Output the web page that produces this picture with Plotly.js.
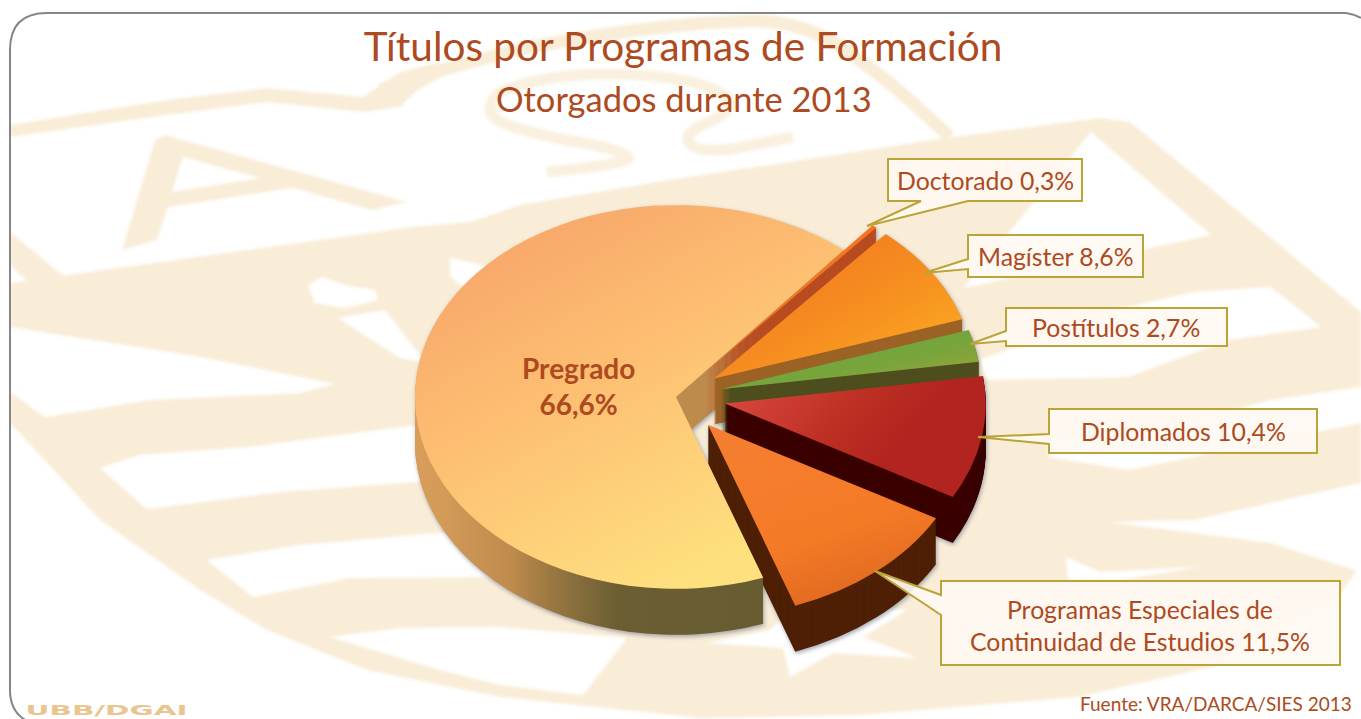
<!DOCTYPE html>
<html><head><meta charset="utf-8">
<script src="https://cdn.plot.ly/plotly-3.0.1.min.js"></script>
<style>html,body{margin:0;padding:0;background:#fff;overflow:hidden}#c{width:1361px;height:719px}
.pielayer{filter:drop-shadow(1px 2px 2px rgba(90,100,120,.55))}
.layer-below .shapelayer{filter:blur(1.4px)}</style></head>
<body><div id="c"></div>
<script>
const categories=['Doctorado','Magíster','Postítulos','Diplomados','Programas Especiales de Continuidad de Estudios','Pregrado'];
const shares=[0.3,8.6,2.7,10.4,11.5,66.6];
const pulls=[0.17,0.175,0.175,0.19,0.19,0];
const baseColors=['#F47521','#F99B20','#84A53C','#B5261F','#F47A28','#FDC574'];
const wallColors=['#B84C22','#9C6326','#4E4E1E','#3A0000','#4F2006','#8A7040'];
const calloutLabels=['Doctorado 0,3%','Magíster 8,6%','Postítulos 2,7%','Diplomados 10,4%','Programas Especiales de<br>Continuidad de Estudios 11,5%'];
const mainLabel='Pregrado<br>66,6%';
const titleText='Títulos por Programas de Formación';
const subtitleText='Otorgados durante 2013';
const sourceText='Fuente: VRA/DARCA/SIES 2013';
const footerText='UBB/DGAI';

const W=1361,H=719,FONT='Lato, Carlito, sans-serif',RUST='#AE4A20',GOLD='#BBA437',CREAM='#F9EDD8';
const X=x=>(x/W).toFixed(5),Y=y=>(1-y/H).toFixed(5);
const pathOf=(pts,close)=>pts.map((p,i)=>(i?'L':'M')+X(p[0])+','+Y(p[1])).join(' ')+(close?' Z':'');
const smoothOf=pts=>{let d='M'+X(pts[0][0])+','+Y(pts[0][1]);
  for(let i=1;i<pts.length-1;i++){const m=[(pts[i][0]+pts[i+1][0])/2,(pts[i][1]+pts[i+1][1])/2];
    d+=' Q'+X(pts[i][0])+','+Y(pts[i][1])+' '+X(m[0])+','+Y(m[1]);}
  const l=pts[pts.length-1];return d+' L'+X(l[0])+','+Y(l[1]);};
const base={xref:'paper',yref:'paper',layer:'below'};
const fillShape=(pts,c)=>({...base,type:'path',path:pathOf(pts,true),fillcolor:c,line:{width:0}});
const strokeShape=(pts,w,c)=>({...base,type:'path',path:smoothOf(pts),line:{width:w,color:c},fillcolor:'rgba(0,0,0,0)'});

const shield=[[10,283],[420,226],[470,222],[520,205],[650,183],[945,138],[1100,118],[1130,122],[1361,312],[1361,565],[1341,593],[1211,667],[1078,697],[861,715],[700,718],[500,697],[367,670],[267,630],[200,590],[100,520],[12,425],[10,425]];
const whites=[
 [[10,327],[200,357],[335,384],[300,393],[150,400],[45,417],[10,392]],
 [[100,468],[147,509],[280,492],[440,480],[440,422],[250,447],[140,455]],
 [[207,560],[253,597],[350,578],[500,577],[500,530],[440,533],[300,545]],
 [[330,637],[400,628],[500,627],[627,638],[583,695],[500,685],[440,670]],
 [[1091,132],[964,288],[1211,235]],
 [[1271,287],[1321,327],[1228,340],[1128,377],[988,380],[979,360],[1128,307],[1194,292]],
 [[1049,457],[1128,470],[1228,450],[1361,423],[1361,387],[1271,400],[1160,430],[1049,440]],
 [[1109,522],[1194,520],[1361,483],[1361,572],[1271,543]],
 [[1066,557],[1068,580],[1120,580],[1200,567],[1100,572]],
 [[707,643],[783,648],[790,677],[833,653],[917,658],[863,637],[907,610],[800,600],[770,630]],
 [[338,318],[385,310],[425,362],[400,358]],
 [[308,285],[322,277],[345,285],[375,290],[378,300],[345,308],[315,303]],
 [[450,258],[470,262],[500,270],[490,290],[460,285],[450,275]]
];
const shapes=[
 fillShape(shield,CREAM),
 ...whites.map(p=>fillShape(p,'#FFFFFF')),
 fillShape([[10,125],[167,100],[267,88],[363,97],[400,72],[440,62],[450,72],[415,92],[400,107],[363,112],[267,102],[167,115],[10,137]],CREAM),
 fillShape([[10,232],[65,277],[30,284],[10,265]],CREAM),
 fillShape([[165,135],[407,202],[372,210],[293,188],[168,207],[157,240],[122,250],[155,140]],CREAM),
 fillShape([[183,157],[172,192],[260,178]],'#FFFFFF'),
 strokeShape([[380,90],[447,67],[560,40],[700,22],[800,20],[880,73],[950,137]],13,CREAM),
 strokeShape([[547,172],[640,163],[613,148],[547,137],[490,120],[490,100],[507,87],[580,72],[680,77],[730,95],[730,113],[680,135],[703,155],[793,137]],11,'#FAF0DF')
];
shapes.push({xref:'paper',yref:'paper',layer:'above',type:'path',fillcolor:'rgba(0,0,0,0)',line:{color:'#85858A',width:2},
 path:'M'+X(27)+','+Y(721)+' Q'+X(10)+','+Y(712)+' '+X(10)+','+Y(690)+' L'+X(10)+','+Y(50)+' Q'+X(10)+','+Y(13)+' '+X(47)+','+Y(13)+' L'+X(1346)+','+Y(13)+' Q'+X(1354)+','+Y(14)+' '+X(1361)+','+Y(18)});
const callouts=[
 [[888,159],[1082,159],[1082,201],[968,201],[867,226],[921,201],[888,201]],
 [[968,235],[1143,235],[1143,277],[968,277],[968,269],[924,273],[968,259]],
 [[1006,308],[1227,308],[1227,346],[1006,346],[1006,341],[970,344],[1006,331]],
 [[1049,409],[1317,409],[1317,453],[1049,453],[1049,444],[978,437],[1049,434]],
 [[941,581],[1340,581],[1340,665],[941,665],[941,615],[875,571],[941,595]]
];
callouts.forEach(p=>shapes.push({xref:'paper',yref:'paper',layer:'above',type:'path',path:pathOf(p,true),fillcolor:'rgba(254,249,241,.93)',line:{color:GOLD,width:2}}));

const labelPos=[[985,181],[1056,257],[1116,328],[1183,431],[1140,625]];
const ann=(text,x,y,size,extra)=>({xref:'paper',yref:'paper',x:x/W,y:1-y/H,xanchor:'center',yanchor:'middle',showarrow:false,text,font:{family:FONT,size,color:RUST},...extra});
const annotations=calloutLabels.map((t,i)=>ann(t,labelPos[i][0],labelPos[i][1],24.8,i==4?{align:'center'}:{}));
annotations.push(ann(mainLabel,578,386,28,{font:{family:FONT,size:28,color:RUST,weight:700},align:'center'}));
annotations.push(ann(subtitleText,684,98,34.5));
annotations.push(ann(sourceText,1216,703,19));
annotations.push(ann(footerText,106,709.5,14,{font:{family:'DejaVu Sans',size:14,color:'#E9C58F',weight:700}}));

const RADIUS=261,CX=676,CY=397,SQUASH=0.735,DEPTH=46,STEP=1;
const box=RADIUS*(1+Math.max(...pulls));
const CY0=H/2;
const dom={x:[(CX-box)/W,(CX+box)/W],y:[1-(CY0+box)/H,1-(CY0-box)/H]};
const offsets=[];for(let d=DEPTH;d>=0;d-=STEP)offsets.push(d);
const traces=offsets.map(d=>({type:'pie',labels:categories,values:shares,pull:pulls,sort:false,direction:'clockwise',rotation:40,
  domain:dom,textinfo:'none',hoverinfo:'skip',showlegend:false,
  marker:{colors:d?wallColors:baseColors,line:{width:0}}}));

const layout={width:W,height:H,margin:{l:0,r:0,t:0,b:0},paper_bgcolor:'#fff',showlegend:false,
 title:{text:titleText,x:683/W,xanchor:'center',y:1-47/H,yanchor:'middle',font:{family:FONT,size:40.5,color:RUST}},
 shapes,annotations};

const grads={
 top0:[[0,0,1,1],[[0,'#F47521'],[1,'#F47521']]],
 top1:[[0,0,1,1],[[0,'#F2701F'],[.55,'#F68E20'],[1,'#FDB022']]],
 top2:[[0,0,1,1],[[0,'#66A43F'],[.6,'#78A53C'],[1,'#A8A238']]],
 top3:[[0,.2,1,.6],[[0,'#D9463F'],[.45,'#BC2F22'],[.7,'#B2241F'],[1,'#B2241F']]],
 top4:[[0,0,.4,1],[[0,'#F47F32'],[.7,'#F57A26'],[1,'#E36C22']]],
 top5:[[0,0,.6,1],[[0,'#F59E66'],[.5,'#FDBE72'],[1,'#FEE07F']]],
 wall5:[[0,0,1,1],[[0,'#E5A560'],[.4,'#D39A58'],[.55,'#C08C4E'],[.73,'#6A5E32'],[1,'#665C30']]]
};
Plotly.newPlot('c',traces,layout,{staticPlot:true,displayModeBar:false}).then(()=>{
  const svg=document.querySelector('#c svg.main-svg');
  const NS='http://www.w3.org/2000/svg';
  const defs=document.createElementNS(NS,'defs');
  Object.entries(grads).forEach(([id,[v,stops]])=>{
    const g=document.createElementNS(NS,'linearGradient');g.id='g_'+id;
    ['x1','y1','x2','y2'].forEach((a,i)=>g.setAttribute(a,v[i]));
    stops.forEach(([o,c])=>{const s=document.createElementNS(NS,'stop');s.setAttribute('offset',o);s.setAttribute('stop-color',c);g.appendChild(s);});
    defs.appendChild(g);});
  svg.insertBefore(defs,svg.firstChild);
  document.querySelectorAll('.pielayer .trace').forEach((t,i)=>{
    const d=offsets[i];
    t.setAttribute('transform','translate(0,'+(CY+d-SQUASH*CY0)+') scale(1,'+SQUASH+')');
    t.querySelectorAll('.slice path.surface').forEach((p,j)=>{
      if(d===0)p.style.fill='url(#g_top'+j+')';
      else if(j===5)p.style.fill='url(#g_wall5)';
    });
  });
  document.querySelectorAll('.annotation-text').forEach(t=>{
    if(t.textContent===footerText){t.setAttribute('textLength',162);t.setAttribute('lengthAdjust','spacingAndGlyphs');}
  });
});
</script></body></html>
